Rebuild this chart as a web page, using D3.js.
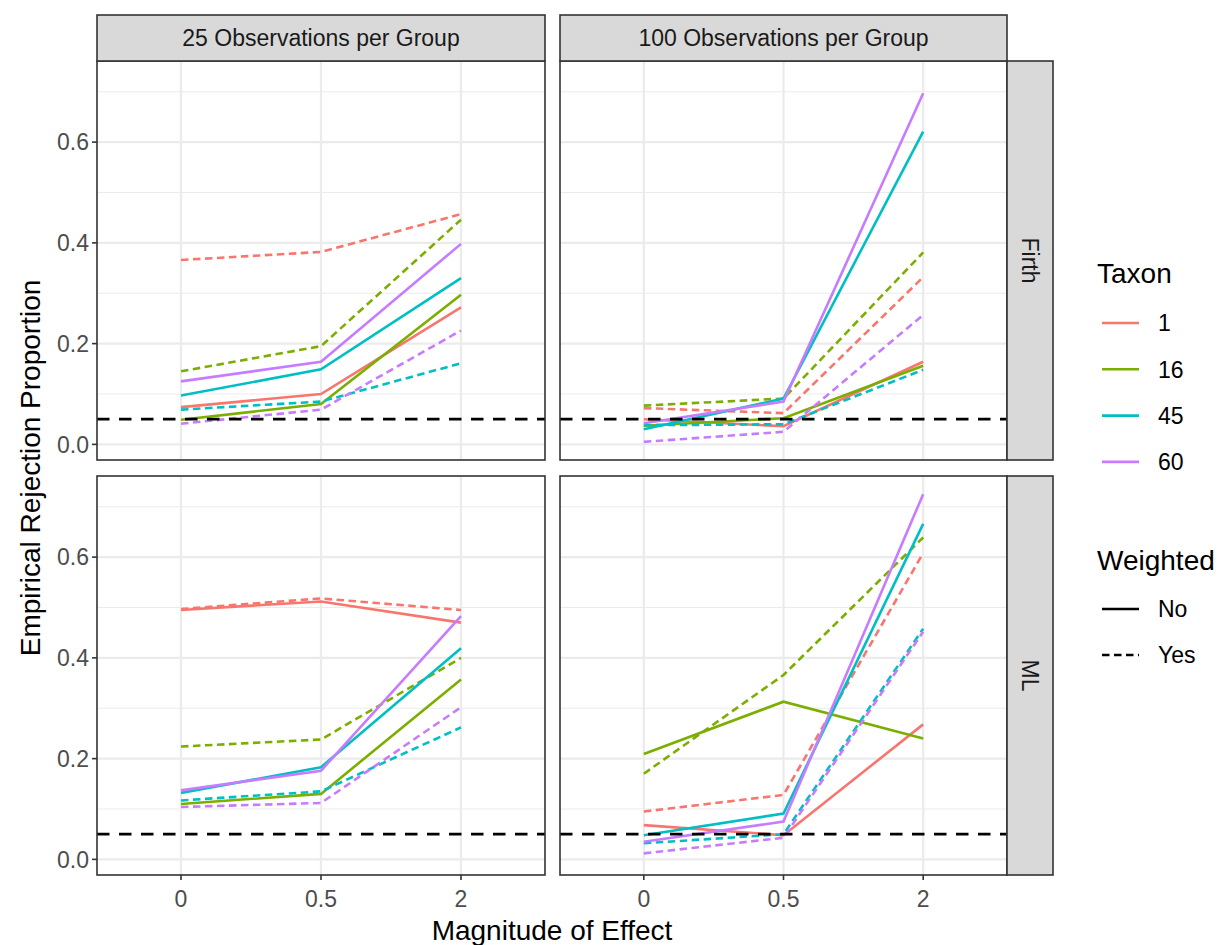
<!DOCTYPE html>
<html>
<head>
  <meta charset="utf-8">
  <script src="https://d3js.org/d3.v7.min.js"></script>
  <style>
    body{margin:0;background:#fff;}
    svg{font-family:"Liberation Sans",Arial,sans-serif;}
  </style>
</head>
<body>
<svg></svg>
<script>
// categories
var effects = ["0", "0.5", "2"];
var taxa = ["1", "16", "45", "60"];
var sizes = ["25 Observations per Group", "100 Observations per Group"];
var methods = ["Firth", "ML"];
var weighted = ["No", "Yes"];
var yTicks = [0, 0.2, 0.4, 0.6];
var refLine = 0.05;

// rejection proportions, one row per taxon (1, 16, 45, 60), columns = effect 0, 0.5, 2
var firth25No  = [[0.074, 0.100, 0.272], [0.049, 0.080, 0.297], [0.097, 0.149, 0.330], [0.125, 0.164, 0.398]];
var firth25Yes = [[0.366, 0.382, 0.457], [0.145, 0.195, 0.446], [0.069, 0.085, 0.161], [0.041, 0.069, 0.226]];
var firth100No  = [[0.050, 0.036, 0.164], [0.037, 0.052, 0.156], [0.030, 0.091, 0.621], [0.042, 0.085, 0.697]];
var firth100Yes = [[0.072, 0.062, 0.332], [0.077, 0.091, 0.381], [0.038, 0.040, 0.148], [0.005, 0.025, 0.257]];
var ml25No  = [[0.495, 0.512, 0.470], [0.110, 0.130, 0.357], [0.132, 0.183, 0.419], [0.137, 0.176, 0.483]];
var ml25Yes = [[0.497, 0.518, 0.495], [0.224, 0.238, 0.400], [0.117, 0.135, 0.262], [0.104, 0.112, 0.302]];
var ml100No  = [[0.068, 0.048, 0.268], [0.209, 0.313, 0.240], [0.048, 0.091, 0.666], [0.035, 0.075, 0.725]];
var ml100Yes = [[0.095, 0.128, 0.608], [0.170, 0.366, 0.639], [0.032, 0.050, 0.458], [0.012, 0.043, 0.452]];

var colors = ["#F8766D", "#7CAE00", "#00BFC4", "#C77CFF"];

// panels[method][size] = {No, Yes}
var panels = {
  "Firth": [{No: firth25No, Yes: firth25Yes}, {No: firth100No, Yes: firth100Yes}],
  "ML": [{No: ml25No, Yes: ml25Yes}, {No: ml100No, Yes: ml100Yes}]
};

var W = 1224, H = 945;
var svg = d3.select("svg").attr("width", W).attr("height", H);

var colX = [[97, 545], [560, 1007]];
var rowY = [[61, 460], [476, 875]];
var stripH = 46;
var tickFs = "23px", titleFs = "28px";

// shared y scale, ggplot-like 5% expansion
var allVals = [];
methods.forEach(function(m){ panels[m].forEach(function(p){
  weighted.forEach(function(w){ p[w].forEach(function(r){ allVals = allVals.concat(r); }); });
}); });
var lo = d3.min(allVals), hi = d3.max(allVals), pad = (hi - lo) * 0.05;

var gridCol = "#EBEBEB", border = "#333333";

methods.forEach(function(m, ri){
  sizes.forEach(function(s, ci){
    var x = d3.scalePoint().domain(effects).range(colX[ci]).padding(0.6);
    var y = d3.scaleLinear().domain([lo - pad, hi + pad]).range([rowY[ri][1], rowY[ri][0]]);
    var g = svg.append("g");
    var x0 = colX[ci][0], x1 = colX[ci][1], y0 = rowY[ri][0], y1 = rowY[ri][1];

    g.append("rect").attr("x", x0).attr("y", y0).attr("width", x1 - x0).attr("height", y1 - y0).attr("fill", "#fff");
    // minor grid
    [0.1, 0.3, 0.5, 0.7].forEach(function(v){
      g.append("line").attr("x1", x0).attr("x2", x1).attr("y1", y(v)).attr("y2", y(v))
        .attr("stroke", gridCol).attr("stroke-width", 1.1);
    });
    yTicks.forEach(function(v){
      g.append("line").attr("x1", x0).attr("x2", x1).attr("y1", y(v)).attr("y2", y(v))
        .attr("stroke", gridCol).attr("stroke-width", 2.2);
    });
    effects.forEach(function(e){
      g.append("line").attr("x1", x(e)).attr("x2", x(e)).attr("y1", y0).attr("y2", y1)
        .attr("stroke", gridCol).attr("stroke-width", 2.2);
    });

    var line = d3.line().x(function(d, i){ return x(effects[i]); }).y(function(d){ return y(d); });
    taxa.forEach(function(t, ti){
      weighted.forEach(function(w){
        g.append("path").datum(panels[m][ci][w][ti])
          .attr("d", line).attr("fill", "none")
          .attr("stroke", colors[ti]).attr("stroke-width", 2.6)
          .attr("stroke-dasharray", w === "Yes" ? "7.5,4.5" : null);
      });
    });

    g.append("line").attr("x1", x0).attr("x2", x1).attr("y1", y(refLine)).attr("y2", y(refLine))
      .attr("stroke", "#000").attr("stroke-width", 2.8).attr("stroke-dasharray", "12.5,9.5");

    g.append("rect").attr("x", x0).attr("y", y0).attr("width", x1 - x0).attr("height", y1 - y0)
      .attr("fill", "none").attr("stroke", border).attr("stroke-width", 1.6);

    // y axis on left column
    if (ci === 0) {
      yTicks.forEach(function(v){
        g.append("line").attr("x1", x0 - 5).attr("x2", x0).attr("y1", y(v)).attr("y2", y(v))
          .attr("stroke", border).attr("stroke-width", 1.6);
        g.append("text").attr("x", x0 - 8).attr("y", y(v)).attr("dy", "0.36em")
          .attr("text-anchor", "end").attr("fill", "#4D4D4D").style("font-size", tickFs)
          .text(d3.format(".1f")(v));
      });
    }
    // x axis on bottom row
    if (ri === 1) {
      effects.forEach(function(e){
        g.append("line").attr("x1", x(e)).attr("x2", x(e)).attr("y1", y1).attr("y2", y1 + 5)
          .attr("stroke", border).attr("stroke-width", 1.6);
        g.append("text").attr("x", x(e)).attr("y", y1 + 24).attr("dy", "0.36em")
          .attr("text-anchor", "middle").attr("fill", "#4D4D4D").style("font-size", tickFs)
          .text(e);
      });
    }
  });
});

// top strips
sizes.forEach(function(s, ci){
  var x0 = colX[ci][0], x1 = colX[ci][1];
  svg.append("rect").attr("x", x0).attr("y", rowY[0][0] - stripH).attr("width", x1 - x0).attr("height", stripH)
    .attr("fill", "#D9D9D9").attr("stroke", border).attr("stroke-width", 1.6);
  svg.append("text").attr("x", (x0 + x1) / 2).attr("y", rowY[0][0] - stripH / 2).attr("dy", "0.36em")
    .attr("text-anchor", "middle").attr("fill", "#1A1A1A").style("font-size", tickFs).text(s);
});
// right strips
methods.forEach(function(m, ri){
  var y0 = rowY[ri][0], y1 = rowY[ri][1], sx = colX[1][1];
  svg.append("rect").attr("x", sx).attr("y", y0).attr("width", stripH).attr("height", y1 - y0)
    .attr("fill", "#D9D9D9").attr("stroke", border).attr("stroke-width", 1.6);
  svg.append("text").attr("transform", "translate(" + (sx + stripH / 2) + "," + ((y0 + y1) / 2) + ") rotate(90)")
    .attr("dy", "0.36em").attr("text-anchor", "middle").attr("fill", "#1A1A1A").style("font-size", tickFs).text(m);
});

// axis titles
svg.append("text").attr("x", (colX[0][0] + colX[1][1]) / 2).attr("y", 940)
  .attr("text-anchor", "middle").style("font-size", titleFs).text("Magnitude of Effect");
svg.append("text").attr("transform", "translate(30," + ((rowY[0][0] + rowY[1][1]) / 2) + ") rotate(-90)")
  .attr("dy", "0.36em").attr("text-anchor", "middle").style("font-size", titleFs).text("Empirical Rejection Proportion");

// legends
var lg = svg.append("g");
lg.append("text").attr("x", 1097).attr("y", 273).attr("dy", "0.36em").style("font-size", titleFs).text("Taxon");
taxa.forEach(function(t, i){
  var ly = 323 + i * 46.3;
  lg.append("line").attr("x1", 1102).attr("x2", 1139).attr("y1", ly).attr("y2", ly)
    .attr("stroke", colors[i]).attr("stroke-width", 2.6);
  lg.append("text").attr("x", 1158).attr("y", ly).attr("dy", "0.36em").style("font-size", tickFs).text(t);
});
lg.append("text").attr("x", 1097).attr("y", 560).attr("dy", "0.36em").style("font-size", titleFs).text("Weighted");
weighted.forEach(function(w, i){
  var ly = 609 + i * 46;
  lg.append("line").attr("x1", 1102).attr("x2", 1139).attr("y1", ly).attr("y2", ly)
    .attr("stroke", "#000").attr("stroke-width", 2.6).attr("stroke-dasharray", w === "Yes" ? "7.5,4.5" : null);
  lg.append("text").attr("x", 1158).attr("y", ly).attr("dy", "0.36em").style("font-size", tickFs).text(w);
});
</script>
</body>
</html>
